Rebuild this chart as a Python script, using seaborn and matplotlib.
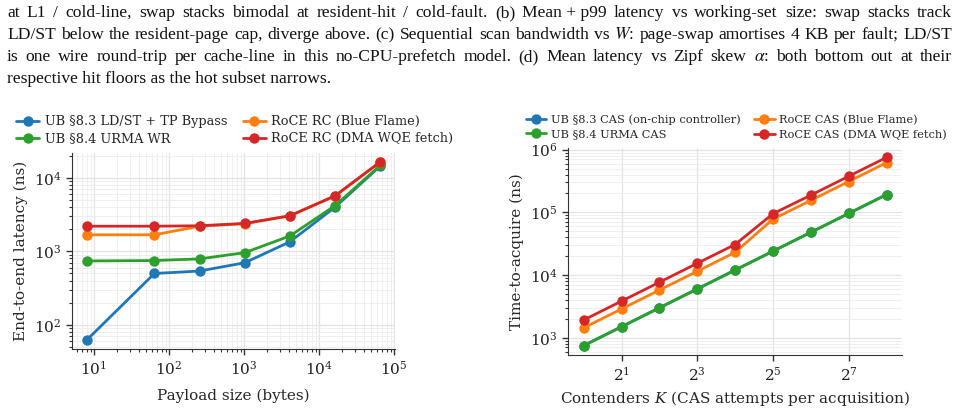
import numpy as np
import pandas as pd
import matplotlib
matplotlib.use("Agg")
import matplotlib.pyplot as plt
import matplotlib.ticker as mticker
import seaborn as sns

# ---- data ----
payload_bytes = [8, 64, 256, 1024, 4096, 16384, 65536]
lat_ub_ldst = [62, 500, 540, 700, 1350, 4000, 14500]
lat_ub_urma = [740, 750, 790, 960, 1620, 4200, 14800]
lat_roce_bf = [1680, 1680, 2200, 2380, 3050, 5700, 16500]
lat_roce_dma = [2200, 2200, 2230, 2400, 3050, 5700, 16500]

contenders = [1, 2, 4, 8, 16, 32, 64, 128, 256]
cas_ub_chip = [750, 1500, 3000, 6000, 12000, 24000, 48000, 96000, 192000]
cas_ub_urma = [750, 1500, 3000, 6000, 12000, 24000, 48000, 96000, 192000]
cas_roce_bf = [1440, 2880, 5760, 11500, 23000, 78000, 155000, 310000, 620000]
cas_roce_dma = [1920, 3840, 7680, 15400, 30700, 95000, 188000, 376000, 752000]

left_names = ['UB §8.3 LD/ST + TP Bypass', 'UB §8.4 URMA WR',
              'RoCE RC (Blue Flame)', 'RoCE RC (DMA WQE fetch)']
right_names = ['UB §8.3 CAS (on-chip controller)', 'UB §8.4 URMA CAS',
               'RoCE CAS (Blue Flame)', 'RoCE CAS (DMA WQE fetch)']
colors = ['#1f77b4', '#2ca02c', '#ff7f0e', '#d62728']

caption = [
    "at L1 / cold-line, swap stacks bimodal at resident-hit / cold-fault. (b) Mean + p99 latency vs working-set size: swap stacks track",
    "LD/ST below the resident-page cap, diverge above. (c) Sequential scan bandwidth vs $W$: page-swap amortises 4 KB per fault; LD/ST",
    "is one wire round-trip per cache-line in this no-CPU-prefetch model. (d) Mean latency vs Zipf skew $\\alpha$: both bottom out at their",
    "respective hit floors as the hot subset narrows.",
]

df_lat = pd.DataFrame({
    'payload': payload_bytes * 4,
    'latency': lat_ub_ldst + lat_ub_urma + lat_roce_bf + lat_roce_dma,
    'stack': sum([[n] * len(payload_bytes) for n in left_names], []),
})
df_cas = pd.DataFrame({
    'K': contenders * 4,
    'tta': cas_ub_chip + cas_ub_urma + cas_roce_bf + cas_roce_dma,
    'stack': sum([[n] * len(contenders) for n in right_names], []),
})

sns.set_style('whitegrid')
plt.rcParams['font.family'] = ['DejaVu Serif']
plt.rcParams['mathtext.fontset'] = 'dejavuserif'
plt.rcParams['axes.edgecolor'] = '#333333'
plt.rcParams['grid.color'] = '#e3e3e3'
plt.rcParams['grid.linewidth'] = 0.8

W, H = 960, 412
fig = plt.figure(figsize=(9.6, 4.12), dpi=100)
renderer = fig.canvas.get_renderer()

# caption text, justified like the paper
x_left, x_right = 7, 952
for i, line in enumerate(caption):
    y = 1 - (17 + 22 * i) / H
    kw = dict(fontsize=12.6, va='baseline', ha='left', family='Liberation Serif',
              math_fontfamily='stix', color='#111111')
    if i == len(caption) - 1:
        fig.text(x_left / W, y, line, **kw)
        continue
    # keep "Mean + p99" together so the lone plus sign sits on the baseline
    words = [w.replace('\u00a0', ' ') for w in line.replace(' + ', '\u00a0+\u00a0').split(' ')]
    texts = [fig.text(0, y, w, **kw) for w in words]
    widths = [t.get_window_extent(renderer).width for t in texts]
    gap = (x_right - x_left - sum(widths)) / (len(words) - 1)
    x = x_left
    for t, wd in zip(texts, widths):
        t.set_x(x / W)
        x += wd + gap

ax1 = fig.add_axes([72 / W, (H - 349) / H, 323 / W, 196 / H])
ax2 = fig.add_axes([568 / W, (H - 355) / H, 334 / W, 207 / H])

sns.lineplot(data=df_lat, x='payload', y='latency', hue='stack', hue_order=left_names,
             palette=colors, marker='o', markersize=7.5, markeredgewidth=0, linewidth=2,
             ax=ax1, legend=True)
sns.lineplot(data=df_cas, x='K', y='tta', hue='stack', hue_order=right_names,
             palette=colors, marker='o', markersize=7.5, markeredgewidth=0, linewidth=2,
             ax=ax2, legend=True)

for ax in (ax1, ax2):
    ax.set_yscale('log')
    sns.despine(ax=ax)
    ax.tick_params(which='both', direction='out', colors='#333333', labelcolor='#222222',
                   labelsize=11, left=True, bottom=True)
    ax.tick_params(which='major', length=4, width=1)
    ax.tick_params(which='minor', length=2, width=0.8)
    ax.grid(True, which='major', color='#e3e3e3', linewidth=0.9)
    ax.grid(True, which='minor', color='#ececec', linewidth=0.6)

ax1.set_xscale('log')
ax1.set_xlim(5.1, 103000)
ax1.set_xlabel('Payload size (bytes)', fontsize=11, labelpad=8)
ax1.set_ylabel('End-to-end latency (ns)', fontsize=11)

ax2.set_xscale('log', base=2)
ax2.xaxis.set_major_locator(mticker.FixedLocator([2, 8, 32, 128]))
ax2.xaxis.set_minor_locator(mticker.NullLocator())
ax2.xaxis.set_major_formatter(mticker.LogFormatterSciNotation(base=2))
ax2.set_xlim(0.75, 340)
ax2.set_xlabel('Contenders $K$ (CAS attempts per acquisition)', fontsize=11)
ax2.set_ylabel('Time-to-acquire (ns)', fontsize=11)

ax1.legend(loc='upper left', bbox_to_anchor=(11 / W, 1 - 110 / H), bbox_transform=fig.transFigure,
           ncol=2, frameon=False, fontsize=9.3, handlelength=1.8, handletextpad=0.4,
           columnspacing=1.2, labelspacing=0.3, borderaxespad=0)
ax2.legend(loc='upper left', bbox_to_anchor=(521 / W, 1 - 110 / H), bbox_transform=fig.transFigure,
           ncol=2, frameon=False, fontsize=8.2, handlelength=1.8, handletextpad=0.4,
           columnspacing=1.2, labelspacing=0.35, borderaxespad=0)

fig.savefig('out.png', dpi=100)
